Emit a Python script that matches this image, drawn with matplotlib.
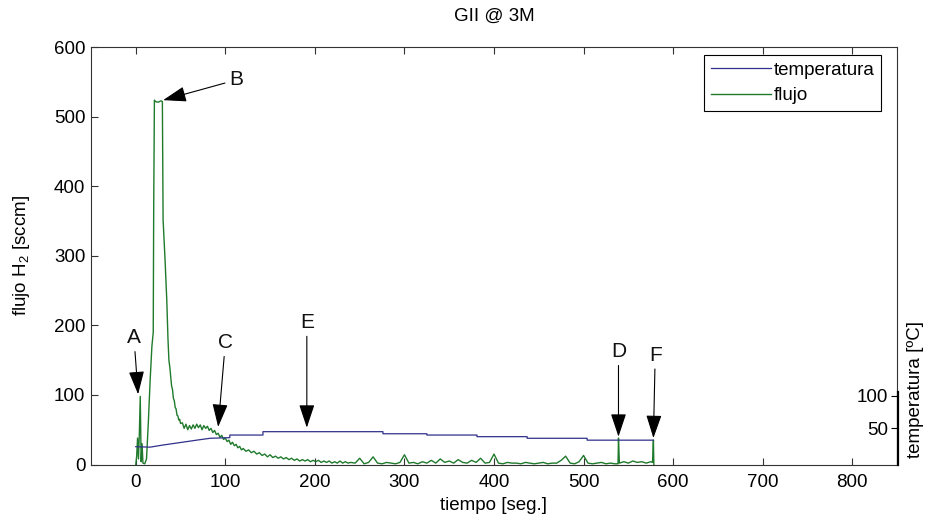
import matplotlib
matplotlib.use('Agg')
from matplotlib import pyplot as plt

plt.rcParams['font.family'] = ['Liberation Sans', 'DejaVu Sans']
plt.rcParams['mathtext.default'] = 'regular'

# flujo H2 [sccm] vs tiempo [seg.]
t_flujo = [0, 1, 2, 3, 4, 5, 6, 7, 8, 10, 12, 14, 16, 18, 19.5, 20, 20.8, 22, 25, 28, 29.7, 30.5, 32.7, 34.6, 36, 37,
           38, 39, 40, 41, 42, 43, 44, 45, 46, 47, 48, 49, 50,
           52, 54, 56, 58, 60, 62, 64, 66, 68, 70, 72, 74, 76, 78, 80, 82, 84, 86, 88, 90,
           92, 94, 96, 98, 100, 102, 104, 106, 108, 110, 112, 114, 116, 118, 120,
           123, 126, 129, 132, 135, 138, 141, 144, 147, 150, 153, 156, 159, 162, 165, 168, 171, 174, 177, 180,
           183, 186, 189, 192, 195, 198, 201, 204, 207, 210, 213, 216, 219, 222, 225, 228, 231, 234, 237, 240,
           245, 250, 255, 260, 265, 270, 275, 280, 285, 290, 295, 300, 305, 310, 315, 320, 325, 330, 335, 340,
           345, 350, 355, 360, 365, 370, 375, 380, 385, 390, 395, 400, 405, 410, 415, 420, 425, 430, 435, 440,
           445, 450, 455, 460, 465, 470, 475, 480, 485, 490, 495, 500, 505, 510, 515, 520, 525, 530, 535, 538.5,
           539, 540, 545, 550, 555, 560, 565, 570, 575, 577, 578, 578.5]
flujo = [0, 12, 38, 8, 45, 98, 4, 30, 2, 1, 8, 60, 120, 170, 190, 366, 524, 522, 521, 523, 522, 352, 294, 237, 179, 150,
         140, 126, 113, 108, 95, 92, 82, 80, 71, 70, 64, 65, 59,
         60, 52, 58, 50, 56, 51, 57, 52, 58, 53, 57, 50, 56, 52, 55, 49, 52, 46, 49, 43,
         45, 39, 42, 36, 38, 33, 35, 29, 32, 27, 29, 24, 26, 21, 23,
         19, 21, 17, 19, 15, 17, 13, 15, 11, 14, 10, 12, 9, 11, 8, 10, 7, 9, 6, 8,
         5, 7, 5, 7, 4, 6, 4, 6, 3, 5, 3, 5, 2, 4, 2, 5, 2, 4, 2, 3,
         2, 9, 1, 3, 11, 2, 1, 3, 2, 1, 3, 14, 2, 3, 1, 4, 2, 6, 2, 8,
         3, 5, 2, 7, 3, 2, 6, 3, 9, 2, 3, 15, 2, 1, 3, 2, 2, 1, 3, 2,
         1, 2, 3, 1, 2, 2, 6, 12, 2, 1, 4, 13, 2, 1, 2, 3, 1, 2, 1, 1,
         38, 2, 4, 2, 5, 3, 4, 2, 4, 3, 35, 0]

# temperatura [ºC]
t_temp = [0, 16, 30, 50, 70, 83, 105, 105, 142, 142, 276, 276, 325, 325, 381, 381, 437, 437, 504, 504, 578]
temp = [21.5, 20.8, 24, 28, 32, 34.5, 35.5, 39.5, 39.5, 44.7, 44.7, 41.5, 41.5, 39.5, 39.5, 37, 37, 34.5, 34.5, 31.6, 31.6]

x_ticks = [0, 100, 200, 300, 400, 500, 600, 700, 800]
y_ticks = [0, 100, 200, 300, 400, 500, 600]
temp_ticks = [50, 100]

# marked points: letter position and arrow tip (data coords)
letters = ['A', 'B', 'C', 'D', 'E', 'F']
letter_xy = [(-2, 182), (112, 553), (100, 175), (539, 162), (191, 204), (580, 157)]
tip_xy = [(2.6, 101), (30.5, 524), (92, 54), (539, 40), (191, 53), (578, 38)]

W, H = 933, 523
fig = plt.figure(figsize=(W / 100, H / 100), dpi=100)
ax = fig.add_axes([91 / W, 1 - 464.5 / H, 806 / W, 417.2 / H])

green = '#1f7a2c'
navy = '#30308c'
frame = '#333333'

l_f, = ax.plot(t_flujo, flujo, color=green, lw=1.0)
ax.set_xlim(-50, 850)
ax.set_ylim(0, 600)
ax.set_xticks(x_ticks)
ax.set_yticks(y_ticks)
ax.tick_params(direction='in', length=5, width=0.8, top=True, right=True, labelsize=13.5, color=frame)
ax.tick_params(axis='y', pad=4)
ax.tick_params(axis='x', pad=7)
for s in ax.spines.values():
    s.set_color(frame)
    s.set_linewidth(0.8)
ax.set_xlabel('tiempo [seg.]', fontsize=13.5, labelpad=4)
ax.set_ylabel('flujo H$_2$ [sccm]', fontsize=13.5, labelpad=16)
ax.set_title('GII @ 3M', fontsize=13.5, pad=19)

# temperature on twin axes, scaled like the small right axis
ax_t = ax.twinx()
l_t, = ax_t.plot(t_temp, temp, color=navy, lw=0.9)
ax_t.set_ylim(-6, -6 + 417.2 / (72.5 / 112))
ax_t.axis('off')

for lab, (tx, ty), (ax_, ay_) in zip(letters, letter_xy, tip_xy):
    ax_t.annotate(lab, xy=(ax_, ay_), xycoords=ax.transData, xytext=(tx, ty), textcoords=ax.transData,
                  ha='center', va='center', fontsize=15, color='#111111',
                  arrowprops=dict(arrowstyle='-|>,head_length=0.9,head_width=0.3', color='black',
                                  lw=0.8, shrinkA=1, shrinkB=0, mutation_scale=16))

leg = ax_t.legend([l_t, l_f], ['temperatura', 'flujo'], loc='upper right',
                  bbox_to_anchor=(881 / W, 1 - 55 / H), bbox_transform=fig.transFigure,
                  borderaxespad=0, fancybox=False, edgecolor='black', framealpha=1,
                  fontsize=13.5, handlelength=3.2, handletextpad=0.15, labelspacing=0.45, borderpad=0.35)
leg.get_frame().set_linewidth(0.8)

# small temperature scale at the right edge
ax2 = fig.add_axes([898 / W, 1 - 464.5 / H, 0.0005, 72.5 / H])
ax2.patch.set_visible(False)
for k in ['top', 'right', 'bottom']:
    ax2.spines[k].set_visible(False)
ax2.spines['left'].set_linewidth(1.6)
ax2.set_xticks([])
ax2.set_ylim(-6, 106)
ax2.set_yticks(temp_ticks)
ax2.tick_params(axis='y', direction='out', length=5, width=0.8, labelsize=13.5, pad=2)

fig.text(916 / W, 1 - 390 / H, 'temperatura [ºC]', rotation=90, ha='center', va='center', fontsize=13.5)

fig.savefig('out.png', dpi=100)
